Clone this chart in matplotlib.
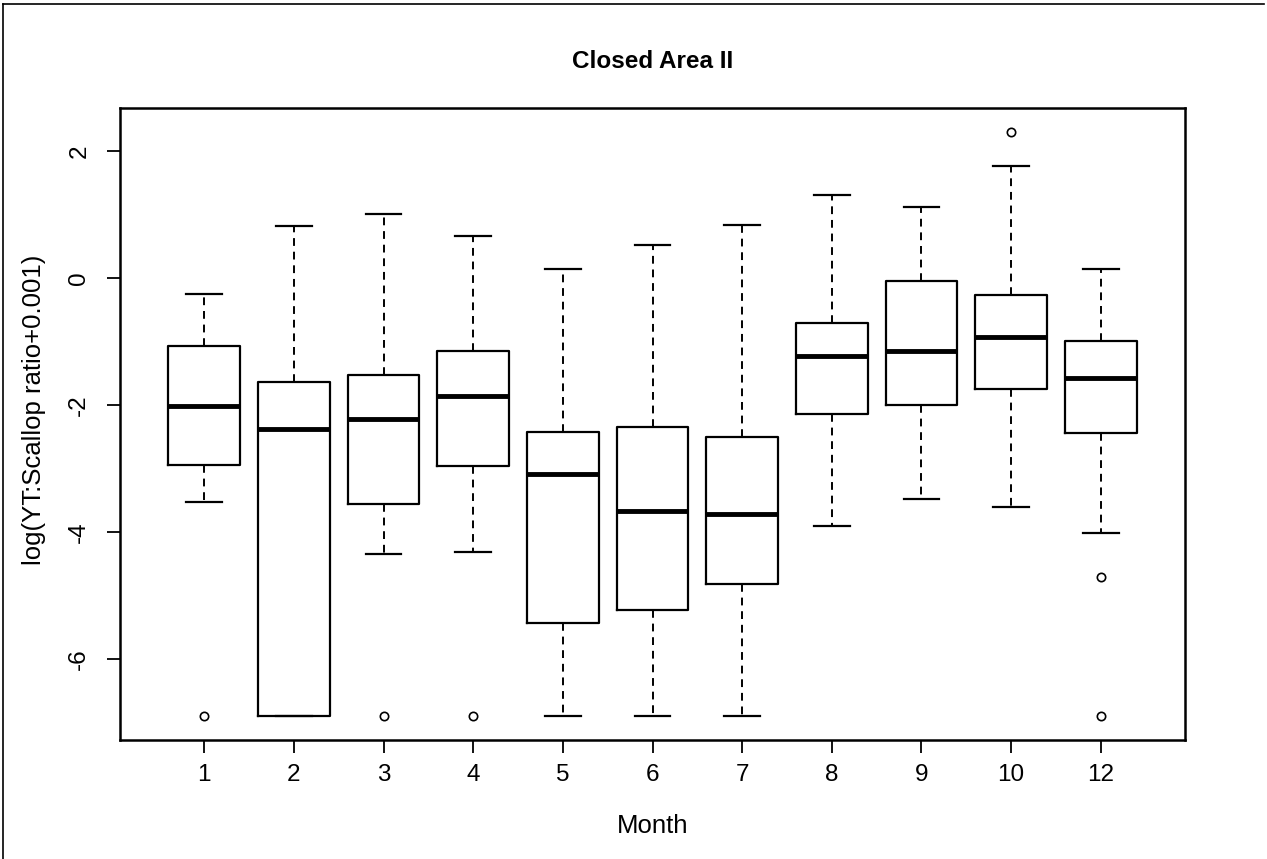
import numpy as np
import matplotlib.pyplot as plt
from matplotlib.lines import Line2D

plt.rcParams['font.family'] = ['Liberation Sans', 'DejaVu Sans']

# box statistics, one entry per month
months = ["1", "2", "3", "4", "5", "6", "7", "8", "9", "10", "12"]
whislo = [-3.52, -6.90, -4.35, -4.31, -6.90, -6.90, -6.90, -3.90, -3.48, -3.61, -4.01]
q1 = [-2.94, -6.90, -3.56, -2.96, -5.44, -5.22, -4.81, -2.14, -1.99, -1.75, -2.44]
med = [-2.01, -2.37, -2.22, -1.86, -3.09, -3.67, -3.71, -1.22, -1.15, -0.92, -1.57]
q3 = [-1.06, -1.64, -1.53, -1.15, -2.43, -2.34, -2.50, -0.70, -0.05, -0.26, -0.99]
whishi = [-0.24, 0.83, 1.01, 0.66, 0.14, 0.52, 0.84, 1.31, 1.12, 1.77, 0.15]
fliers = [[-6.90], [], [-6.90], [-6.90], [], [], [], [], [], [2.31], [-4.70, -6.90]]

stats = []
for i in range(len(months)):
    stats.append(dict(label=months[i], whislo=whislo[i], q1=q1[i], med=med[i],
                      q3=q3[i], whishi=whishi[i], fliers=fliers[i]))

fig = plt.figure(figsize=(12.67, 8.59), dpi=100)
ax = fig.add_axes([0.0947, 0.139, 0.8406, 0.735])

ax.bxp(stats, positions=np.arange(1, len(months) + 1), widths=0.8,
       boxprops=dict(color='black', linewidth=1.6),
       whiskerprops=dict(color='black', linewidth=1.4, linestyle=(0, (4, 3))),
       capprops=dict(color='black', linewidth=1.6),
       medianprops=dict(color='black', linewidth=3.5, solid_capstyle='butt'),
       flierprops=dict(marker='o', markerfacecolor='white', markeredgecolor='black',
                       markersize=6, markeredgewidth=1.2),
       capwidths=0.4)

ax.set_xlim(0.06, 11.94)
ax.set_ylim(-7.27, 2.68)
ax.set_yticks([-6, -4, -2, 0, 2])
ax.set_yticklabels(["-6", "-4", "-2", "0", "2"], rotation=90, va='center')
ax.tick_params(axis='both', labelsize=17.5, length=9.4, width=1.3, direction='out')
ax.tick_params(axis='y', pad=12)
ax.tick_params(axis='x', pad=8)
for s in ax.spines.values():
    s.set_linewidth(1.8)

ax.set_title("Closed Area II", fontsize=17.5, fontweight='bold', pad=29)
ax.set_xlabel("Month", fontsize=18.5, labelpad=20.5)
ax.set_ylabel("log(YT:Scallop ratio+0.001)", fontsize=18.5)
ax.yaxis.set_label_coords(-0.069, 0.522)

# scanned page frame along top and left
fig.add_artist(Line2D([0.002, 0.002], [0, 0.995], color='black', linewidth=1.2, transform=fig.transFigure))
fig.add_artist(Line2D([0.002, 0.998], [0.995, 0.995], color='black', linewidth=1.2, transform=fig.transFigure))

fig.savefig("out.png", dpi=100)
